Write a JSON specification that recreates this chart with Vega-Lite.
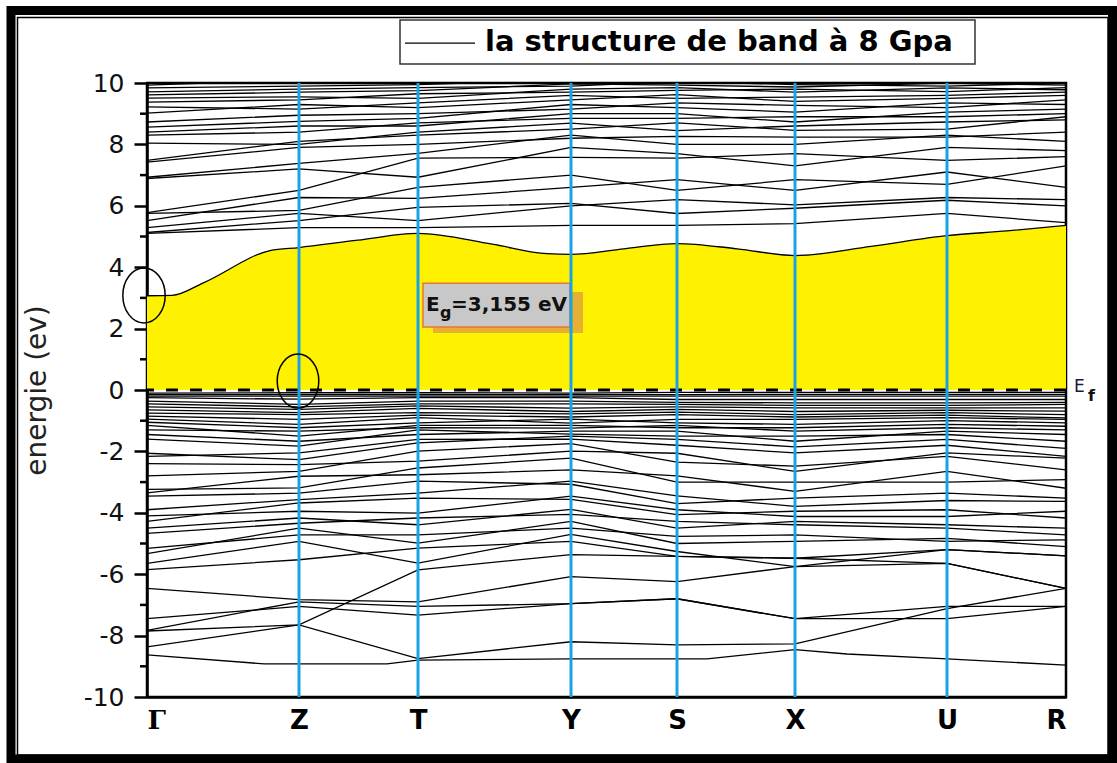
{
"$schema":"https://vega.github.io/schema/vega-lite/v6.json",
"width":919,"height":614,
"padding":0,
"background":"white",
"config":{"view":{"stroke":"#000","strokeWidth":2.5}},
"datasets":{
"one":[{}],
"minor":[{"t":-9},{"t":-7},{"t":-5},{"t":-3},{"t":-1},{"t":1},{"t":3},{"t":5},{"t":7},{"t":9}],
"kp":[{"k":152},{"k":271},{"k":424},{"k":530},{"k":648},{"k":800}],
"cbm":[{"k":0,"e":3.07},{"k":25,"e":3.08},{"k":57,"e":3.5},{"k":123,"e":4.54},{"k":152,"e":4.64},{"k":211,"e":4.88},{"k":271,"e":5.1},{"k":345,"e":4.75},{"k":400,"e":4.44},{"k":424,"e":4.42},{"k":477,"e":4.6},{"k":530,"e":4.77},{"k":590,"e":4.6},{"k":648,"e":4.38},{"k":724,"e":4.68},{"k":800,"e":5.03},{"k":860,"e":5.18},{"k":919,"e":5.36}],
"bands":[
{"b":"c1","k":0,"e":5.1},{"b":"c1","k":152,"e":5.29},{"b":"c1","k":271,"e":5.29},{"b":"c1","k":424,"e":5.36},{"b":"c1","k":530,"e":5.36},{"b":"c1","k":648,"e":5.42},{"b":"c1","k":800,"e":5.75},{"b":"c1","k":919,"e":5.45},
{"b":"c2","k":0,"e":5.13},{"b":"c2","k":152,"e":5.52},{"b":"c2","k":271,"e":5.95},{"b":"c2","k":424,"e":6.08},{"b":"c2","k":530,"e":5.75},{"b":"c2","k":648,"e":5.92},{"b":"c2","k":800,"e":6.18},{"b":"c2","k":919,"e":6.0},
{"b":"c3","k":0,"e":5.29},{"b":"c3","k":152,"e":5.75},{"b":"c3","k":271,"e":5.52},{"b":"c3","k":424,"e":6.0},{"b":"c3","k":530,"e":6.2},{"b":"c3","k":648,"e":6.03},{"b":"c3","k":800,"e":6.27},{"b":"c3","k":919,"e":6.2},
{"b":"c4","k":0,"e":5.52},{"b":"c4","k":152,"e":6.27},{"b":"c4","k":271,"e":6.24},{"b":"c4","k":424,"e":6.6},{"b":"c4","k":530,"e":6.85},{"b":"c4","k":648,"e":6.5},{"b":"c4","k":800,"e":7.1},{"b":"c4","k":919,"e":6.6},
{"b":"c5","k":0,"e":5.75},{"b":"c5","k":152,"e":5.85},{"b":"c5","k":271,"e":6.6},{"b":"c5","k":424,"e":7.0},{"b":"c5","k":530,"e":6.5},{"b":"c5","k":648,"e":6.85},{"b":"c5","k":800,"e":6.7},{"b":"c5","k":919,"e":7.3},
{"b":"c6","k":0,"e":5.78},{"b":"c6","k":152,"e":6.5},{"b":"c6","k":271,"e":7.55},{"b":"c6","k":424,"e":7.58},{"b":"c6","k":530,"e":7.55},{"b":"c6","k":648,"e":7.7},{"b":"c6","k":800,"e":7.48},{"b":"c6","k":919,"e":7.6},
{"b":"c7","k":0,"e":6.89},{"b":"c7","k":152,"e":7.2},{"b":"c7","k":271,"e":6.93},{"b":"c7","k":424,"e":7.9},{"b":"c7","k":530,"e":7.7},{"b":"c7","k":648,"e":7.3},{"b":"c7","k":800,"e":7.9},{"b":"c7","k":919,"e":7.8},
{"b":"c8","k":0,"e":6.93},{"b":"c8","k":152,"e":7.38},{"b":"c8","k":271,"e":7.71},{"b":"c8","k":424,"e":8.3},{"b":"c8","k":530,"e":8.0},{"b":"c8","k":648,"e":8.0},{"b":"c8","k":800,"e":8.3},{"b":"c8","k":919,"e":8.1},
{"b":"c9","k":0,"e":7.42},{"b":"c9","k":152,"e":7.9},{"b":"c9","k":271,"e":8.0},{"b":"c9","k":424,"e":8.2},{"b":"c9","k":530,"e":8.26},{"b":"c9","k":648,"e":8.24},{"b":"c9","k":800,"e":8.24},{"b":"c9","k":919,"e":8.4},
{"b":"c10","k":0,"e":7.48},{"b":"c10","k":152,"e":8.1},{"b":"c10","k":271,"e":8.3},{"b":"c10","k":424,"e":8.5},{"b":"c10","k":530,"e":8.7},{"b":"c10","k":648,"e":8.46},{"b":"c10","k":800,"e":8.5},{"b":"c10","k":919,"e":8.9},
{"b":"c11","k":0,"e":8.04},{"b":"c11","k":152,"e":8.0},{"b":"c11","k":271,"e":8.4},{"b":"c11","k":424,"e":8.69},{"b":"c11","k":530,"e":8.45},{"b":"c11","k":648,"e":8.6},{"b":"c11","k":800,"e":8.73},{"b":"c11","k":919,"e":8.8},
{"b":"c12","k":0,"e":8.3},{"b":"c12","k":152,"e":8.4},{"b":"c12","k":271,"e":8.7},{"b":"c12","k":424,"e":8.85},{"b":"c12","k":530,"e":8.85},{"b":"c12","k":648,"e":8.9},{"b":"c12","k":800,"e":8.9},{"b":"c12","k":919,"e":9.0},
{"b":"c13","k":0,"e":8.4},{"b":"c13","k":152,"e":8.6},{"b":"c13","k":271,"e":8.6},{"b":"c13","k":424,"e":9.0},{"b":"c13","k":530,"e":9.0},{"b":"c13","k":648,"e":8.73},{"b":"c13","k":800,"e":9.05},{"b":"c13","k":919,"e":9.15},
{"b":"c14","k":0,"e":8.56},{"b":"c14","k":152,"e":8.75},{"b":"c14","k":271,"e":8.85},{"b":"c14","k":424,"e":9.3},{"b":"c14","k":530,"e":9.2},{"b":"c14","k":648,"e":9.05},{"b":"c14","k":800,"e":9.35},{"b":"c14","k":919,"e":9.3},
{"b":"c15","k":0,"e":8.73},{"b":"c15","k":152,"e":8.95},{"b":"c15","k":271,"e":9.0},{"b":"c15","k":424,"e":9.15},{"b":"c15","k":530,"e":9.35},{"b":"c15","k":648,"e":9.27},{"b":"c15","k":800,"e":9.2},{"b":"c15","k":919,"e":9.45},
{"b":"c16","k":0,"e":9.02},{"b":"c16","k":152,"e":9.3},{"b":"c16","k":271,"e":9.2},{"b":"c16","k":424,"e":9.45},{"b":"c16","k":530,"e":9.62},{"b":"c16","k":648,"e":9.4},{"b":"c16","k":800,"e":9.5},{"b":"c16","k":919,"e":9.6},
{"b":"c17","k":0,"e":9.22},{"b":"c17","k":152,"e":9.15},{"b":"c17","k":271,"e":9.35},{"b":"c17","k":424,"e":9.6},{"b":"c17","k":530,"e":9.5},{"b":"c17","k":648,"e":9.54},{"b":"c17","k":800,"e":9.6},{"b":"c17","k":919,"e":9.7},
{"b":"c18","k":0,"e":9.38},{"b":"c18","k":152,"e":9.45},{"b":"c18","k":271,"e":9.65},{"b":"c18","k":424,"e":9.7},{"b":"c18","k":530,"e":9.76},{"b":"c18","k":648,"e":9.8},{"b":"c18","k":800,"e":9.72},{"b":"c18","k":919,"e":9.85},
{"b":"c19","k":0,"e":9.51},{"b":"c19","k":152,"e":9.55},{"b":"c19","k":271,"e":9.5},{"b":"c19","k":424,"e":9.8},{"b":"c19","k":530,"e":9.85},{"b":"c19","k":648,"e":9.7},{"b":"c19","k":800,"e":9.84},{"b":"c19","k":919,"e":9.78},
{"b":"c20","k":0,"e":9.61},{"b":"c20","k":152,"e":9.7},{"b":"c20","k":271,"e":9.75},{"b":"c20","k":424,"e":9.97},{"b":"c20","k":530,"e":9.93},{"b":"c20","k":648,"e":9.87},{"b":"c20","k":800,"e":10.0},{"b":"c20","k":919,"e":9.93},
{"b":"c21","k":0,"e":9.71},{"b":"c21","k":152,"e":9.8},{"b":"c21","k":271,"e":9.85},{"b":"c21","k":424,"e":9.9},{"b":"c21","k":530,"e":10.05},{"b":"c21","k":648,"e":9.95},{"b":"c21","k":800,"e":9.9},{"b":"c21","k":919,"e":10.0},
{"b":"c22","k":0,"e":9.84},{"b":"c22","k":152,"e":9.9},{"b":"c22","k":271,"e":9.95},{"b":"c22","k":424,"e":10.1},{"b":"c22","k":530,"e":10.15},{"b":"c22","k":648,"e":10.1},{"b":"c22","k":800,"e":10.1},{"b":"c22","k":919,"e":10.1},
{"b":"c23","k":0,"e":9.93},{"b":"c23","k":152,"e":10.1},{"b":"c23","k":271,"e":10.1},{"b":"c23","k":424,"e":10.2},{"b":"c23","k":530,"e":10.3},{"b":"c23","k":648,"e":10.25},{"b":"c23","k":800,"e":10.25},{"b":"c23","k":919,"e":10.25},
{"b":"v1","k":0,"e":-0.1},{"b":"v1","k":152,"e":-0.09},{"b":"v1","k":271,"e":-0.09},{"b":"v1","k":424,"e":-0.1},{"b":"v1","k":530,"e":-0.08},{"b":"v1","k":648,"e":-0.08},{"b":"v1","k":800,"e":-0.08},{"b":"v1","k":919,"e":-0.08},
{"b":"v2","k":0,"e":-0.15},{"b":"v2","k":152,"e":-0.15},{"b":"v2","k":271,"e":-0.15},{"b":"v2","k":424,"e":-0.15},{"b":"v2","k":530,"e":-0.15},{"b":"v2","k":648,"e":-0.14},{"b":"v2","k":800,"e":-0.14},{"b":"v2","k":919,"e":-0.14},
{"b":"v3","k":0,"e":-0.2},{"b":"v3","k":152,"e":-0.2},{"b":"v3","k":271,"e":-0.2},{"b":"v3","k":424,"e":-0.2},{"b":"v3","k":530,"e":-0.2},{"b":"v3","k":648,"e":-0.2},{"b":"v3","k":800,"e":-0.2},{"b":"v3","k":919,"e":-0.2},
{"b":"v4","k":0,"e":-0.25},{"b":"v4","k":152,"e":-0.3},{"b":"v4","k":271,"e":-0.25},{"b":"v4","k":424,"e":-0.25},{"b":"v4","k":530,"e":-0.31},{"b":"v4","k":648,"e":-0.31},{"b":"v4","k":800,"e":-0.31},{"b":"v4","k":919,"e":-0.31},
{"b":"v5","k":0,"e":-0.36},{"b":"v5","k":152,"e":-0.47},{"b":"v5","k":271,"e":-0.36},{"b":"v5","k":424,"e":-0.36},{"b":"v5","k":530,"e":-0.4},{"b":"v5","k":648,"e":-0.42},{"b":"v5","k":800,"e":-0.42},{"b":"v5","k":919,"e":-0.4},
{"b":"v6","k":0,"e":-0.45},{"b":"v6","k":152,"e":-0.55},{"b":"v6","k":271,"e":-0.45},{"b":"v6","k":424,"e":-0.45},{"b":"v6","k":530,"e":-0.47},{"b":"v6","k":648,"e":-0.5},{"b":"v6","k":800,"e":-0.5},{"b":"v6","k":919,"e":-0.47},
{"b":"v7","k":0,"e":-0.55},{"b":"v7","k":152,"e":-0.63},{"b":"v7","k":271,"e":-0.52},{"b":"v7","k":424,"e":-0.59},{"b":"v7","k":530,"e":-0.55},{"b":"v7","k":648,"e":-0.58},{"b":"v7","k":800,"e":-0.58},{"b":"v7","k":919,"e":-0.58},
{"b":"v8","k":0,"e":-0.65},{"b":"v8","k":152,"e":-0.74},{"b":"v8","k":271,"e":-0.6},{"b":"v8","k":424,"e":-0.7},{"b":"v8","k":530,"e":-0.63},{"b":"v8","k":648,"e":-0.7},{"b":"v8","k":800,"e":-0.66},{"b":"v8","k":919,"e":-0.69},
{"b":"v9","k":0,"e":-0.75},{"b":"v9","k":152,"e":-0.8},{"b":"v9","k":271,"e":-0.74},{"b":"v9","k":424,"e":-0.78},{"b":"v9","k":530,"e":-0.72},{"b":"v9","k":648,"e":-0.8},{"b":"v9","k":800,"e":-0.74},{"b":"v9","k":919,"e":-0.8},
{"b":"v10","k":0,"e":-0.85},{"b":"v10","k":152,"e":-0.96},{"b":"v10","k":271,"e":-0.82},{"b":"v10","k":424,"e":-0.88},{"b":"v10","k":530,"e":-0.8},{"b":"v10","k":648,"e":-0.88},{"b":"v10","k":800,"e":-0.82},{"b":"v10","k":919,"e":-0.91},
{"b":"v11","k":0,"e":-0.95},{"b":"v11","k":152,"e":-1.12},{"b":"v11","k":271,"e":-0.9},{"b":"v11","k":424,"e":-1.08},{"b":"v11","k":530,"e":-0.96},{"b":"v11","k":648,"e":-0.96},{"b":"v11","k":800,"e":-0.9},{"b":"v11","k":919,"e":-0.96},
{"b":"v12","k":0,"e":-1.05},{"b":"v12","k":152,"e":-1.23},{"b":"v12","k":271,"e":-1.07},{"b":"v12","k":424,"e":-0.95},{"b":"v12","k":530,"e":-1.07},{"b":"v12","k":648,"e":-1.12},{"b":"v12","k":800,"e":-1.0},{"b":"v12","k":919,"e":-1.07},
{"b":"v13","k":0,"e":-1.15},{"b":"v13","k":152,"e":-1.5},{"b":"v13","k":271,"e":-1.15},{"b":"v13","k":424,"e":-1.15},{"b":"v13","k":530,"e":-1.23},{"b":"v13","k":648,"e":-1.23},{"b":"v13","k":800,"e":-1.12},{"b":"v13","k":919,"e":-1.18},
{"b":"v14","k":0,"e":-1.3},{"b":"v14","k":152,"e":-1.34},{"b":"v14","k":271,"e":-1.23},{"b":"v14","k":424,"e":-1.24},{"b":"v14","k":530,"e":-1.15},{"b":"v14","k":648,"e":-1.34},{"b":"v14","k":800,"e":-1.23},{"b":"v14","k":919,"e":-1.3},
{"b":"v15","k":0,"e":-1.45},{"b":"v15","k":152,"e":-1.67},{"b":"v15","k":271,"e":-1.45},{"b":"v15","k":424,"e":-1.34},{"b":"v15","k":530,"e":-1.34},{"b":"v15","k":648,"e":-1.67},{"b":"v15","k":800,"e":-1.34},{"b":"v15","k":919,"e":-1.45},
{"b":"v16","k":0,"e":-1.6},{"b":"v16","k":152,"e":-1.83},{"b":"v16","k":271,"e":-1.3},{"b":"v16","k":424,"e":-1.44},{"b":"v16","k":530,"e":-1.5},{"b":"v16","k":648,"e":-1.5},{"b":"v16","k":800,"e":-1.45},{"b":"v16","k":919,"e":-1.67},
{"b":"v17","k":0,"e":-2.06},{"b":"v17","k":152,"e":-2.27},{"b":"v17","k":271,"e":-1.72},{"b":"v17","k":424,"e":-1.5},{"b":"v17","k":530,"e":-1.61},{"b":"v17","k":648,"e":-1.85},{"b":"v17","k":800,"e":-1.61},{"b":"v17","k":919,"e":-1.9},
{"b":"v18","k":0,"e":-2.16},{"b":"v18","k":152,"e":-2.05},{"b":"v18","k":271,"e":-1.61},{"b":"v18","k":424,"e":-1.6},{"b":"v18","k":530,"e":-1.8},{"b":"v18","k":648,"e":-2.05},{"b":"v18","k":800,"e":-1.8},{"b":"v18","k":919,"e":-2.16},
{"b":"v19","k":0,"e":-2.4},{"b":"v19","k":152,"e":-2.43},{"b":"v19","k":271,"e":-2.32},{"b":"v19","k":424,"e":-1.99},{"b":"v19","k":530,"e":-2.06},{"b":"v19","k":648,"e":-2.65},{"b":"v19","k":800,"e":-2.05},{"b":"v19","k":919,"e":-2.22},
{"b":"v20","k":0,"e":-2.8},{"b":"v20","k":152,"e":-2.65},{"b":"v20","k":271,"e":-1.99},{"b":"v20","k":424,"e":-1.75},{"b":"v20","k":530,"e":-2.35},{"b":"v20","k":648,"e":-2.48},{"b":"v20","k":800,"e":-2.16},{"b":"v20","k":919,"e":-2.6},
{"b":"v21","k":0,"e":-3.24},{"b":"v21","k":152,"e":-3.19},{"b":"v21","k":271,"e":-2.54},{"b":"v21","k":424,"e":-2.22},{"b":"v21","k":530,"e":-3.0},{"b":"v21","k":648,"e":-3.0},{"b":"v21","k":800,"e":-3.0},{"b":"v21","k":919,"e":-2.92},
{"b":"v22","k":0,"e":-3.35},{"b":"v22","k":152,"e":-2.81},{"b":"v22","k":271,"e":-2.76},{"b":"v22","k":424,"e":-2.6},{"b":"v22","k":530,"e":-2.8},{"b":"v22","k":648,"e":-3.3},{"b":"v22","k":800,"e":-2.65},{"b":"v22","k":919,"e":-3.2},
{"b":"v23","k":0,"e":-3.46},{"b":"v23","k":152,"e":-3.36},{"b":"v23","k":271,"e":-2.97},{"b":"v23","k":424,"e":-3.07},{"b":"v23","k":530,"e":-3.7},{"b":"v23","k":648,"e":-3.52},{"b":"v23","k":800,"e":-3.36},{"b":"v23","k":919,"e":-3.52},
{"b":"v24","k":0,"e":-3.9},{"b":"v24","k":152,"e":-3.57},{"b":"v24","k":271,"e":-3.36},{"b":"v24","k":424,"e":-2.97},{"b":"v24","k":530,"e":-3.45},{"b":"v24","k":648,"e":-3.79},{"b":"v24","k":800,"e":-3.6},{"b":"v24","k":919,"e":-3.63},
{"b":"v25","k":0,"e":-4.1},{"b":"v25","k":152,"e":-3.95},{"b":"v25","k":271,"e":-4.01},{"b":"v25","k":424,"e":-3.46},{"b":"v25","k":530,"e":-3.9},{"b":"v25","k":648,"e":-4.12},{"b":"v25","k":800,"e":-4.12},{"b":"v25","k":919,"e":-3.95},
{"b":"v26","k":0,"e":-4.28},{"b":"v26","k":152,"e":-3.68},{"b":"v26","k":271,"e":-3.52},{"b":"v26","k":424,"e":-3.56},{"b":"v26","k":530,"e":-4.06},{"b":"v26","k":648,"e":-3.95},{"b":"v26","k":800,"e":-3.9},{"b":"v26","k":919,"e":-4.17},
{"b":"v27","k":0,"e":-4.5},{"b":"v27","k":152,"e":-4.17},{"b":"v27","k":271,"e":-4.39},{"b":"v27","k":424,"e":-3.89},{"b":"v27","k":530,"e":-4.5},{"b":"v27","k":648,"e":-4.28},{"b":"v27","k":800,"e":-4.39},{"b":"v27","k":919,"e":-4.5},
{"b":"v28","k":0,"e":-4.67},{"b":"v28","k":152,"e":-4.34},{"b":"v28","k":271,"e":-4.17},{"b":"v28","k":424,"e":-4.05},{"b":"v28","k":530,"e":-4.28},{"b":"v28","k":648,"e":-4.39},{"b":"v28","k":800,"e":-4.5},{"b":"v28","k":919,"e":-4.72},
{"b":"v29","k":0,"e":-5.16},{"b":"v29","k":152,"e":-4.72},{"b":"v29","k":271,"e":-4.72},{"b":"v29","k":424,"e":-4.5},{"b":"v29","k":530,"e":-4.77},{"b":"v29","k":648,"e":-4.72},{"b":"v29","k":800,"e":-4.93},{"b":"v29","k":919,"e":-4.88},
{"b":"v30","k":0,"e":-5.33},{"b":"v30","k":152,"e":-4.5},{"b":"v30","k":271,"e":-4.99},{"b":"v30","k":424,"e":-4.28},{"b":"v30","k":530,"e":-5.0},{"b":"v30","k":648,"e":-4.93},{"b":"v30","k":800,"e":-4.83},{"b":"v30","k":919,"e":-5.1},
{"b":"v31","k":0,"e":-5.65},{"b":"v31","k":152,"e":-4.93},{"b":"v31","k":271,"e":-5.64},{"b":"v31","k":424,"e":-4.7},{"b":"v31","k":530,"e":-5.26},{"b":"v31","k":648,"e":-5.75},{"b":"v31","k":800,"e":-5.2},{"b":"v31","k":919,"e":-5.4},
{"b":"v32","k":0,"e":-5.85},{"b":"v32","k":152,"e":-5.53},{"b":"v32","k":271,"e":-5.15},{"b":"v32","k":424,"e":-4.93},{"b":"v32","k":530,"e":-5.42},{"b":"v32","k":648,"e":-5.48},{"b":"v32","k":800,"e":-5.65},{"b":"v32","k":919,"e":-6.46},
{"b":"v33","k":0,"e":-6.46},{"b":"v33","k":152,"e":-6.83},{"b":"v33","k":271,"e":-6.9},{"b":"v33","k":424,"e":-6.08},{"b":"v33","k":530,"e":-6.24},{"b":"v33","k":648,"e":-5.75},{"b":"v33","k":800,"e":-5.65},{"b":"v33","k":919,"e":-6.46},
{"b":"v34","k":0,"e":-7.83},{"b":"v34","k":152,"e":-6.9},{"b":"v34","k":271,"e":-7.05},{"b":"v34","k":424,"e":-6.96},{"b":"v34","k":530,"e":-6.8},{"b":"v34","k":648,"e":-7.45},{"b":"v34","k":800,"e":-7.45},{"b":"v34","k":919,"e":-7.05},
{"b":"v35","k":0,"e":-7.45},{"b":"v35","k":152,"e":-7.05},{"b":"v35","k":271,"e":-7.33},{"b":"v35","k":424,"e":-6.96},{"b":"v35","k":530,"e":-6.8},{"b":"v35","k":648,"e":-7.45},{"b":"v35","k":800,"e":-7.05},{"b":"v35","k":919,"e":-7.05},
{"b":"v36","k":0,"e":-7.85},{"b":"v36","k":152,"e":-7.65},{"b":"v36","k":271,"e":-5.86},{"b":"v36","k":424,"e":-5.36},{"b":"v36","k":530,"e":-5.42},{"b":"v36","k":648,"e":-5.48},{"b":"v36","k":800,"e":-5.2},{"b":"v36","k":919,"e":-5.4},
{"b":"v37","k":0,"e":-8.37},{"b":"v37","k":152,"e":-7.65},{"b":"v37","k":271,"e":-8.75},{"b":"v37","k":424,"e":-8.2},{"b":"v37","k":530,"e":-8.3},{"b":"v37","k":648,"e":-8.27},{"b":"v37","k":800,"e":-7.12},{"b":"v37","k":919,"e":-6.46},
{"b":"v38","k":0,"e":-8.63},{"b":"v38","k":117,"e":-8.92},{"b":"v38","k":152,"e":-8.92},{"b":"v38","k":240,"e":-8.92},{"b":"v38","k":271,"e":-8.8},{"b":"v38","k":424,"e":-8.76},{"b":"v38","k":530,"e":-8.76},{"b":"v38","k":560,"e":-8.76},{"b":"v38","k":648,"e":-8.46},{"b":"v38","k":700,"e":-8.6},{"b":"v38","k":800,"e":-8.76},{"b":"v38","k":919,"e":-8.96}
]},
"layer":[
{"data":{"name":"cbm"},
 "mark":{"type":"area","color":"#fff200","interpolate":"monotone","opacity":1},
 "encoding":{
  "x":{"field":"k","type":"quantitative","scale":{"domain":[0,919],"nice":false,"zero":false},
   "axis":{"values":[0,152,271,424,530,648,800,919],
    "labelExpr":"datum.value==0?'Γ':datum.value==152?'Z':datum.value==271?'T':datum.value==424?'Y':datum.value==530?'S':datum.value==648?'X':datum.value==800?'U':'R'",
    "ticks":false,"grid":false,"domainColor":"#000","domainWidth":2.5,
    "labelFont":{"condition":{"test":"datum.value==0","value":"DejaVu Serif"},"value":"DejaVu Sans"},
    "labelFontSize":26,"labelFontWeight":"bold","labelColor":"#000","labelPadding":10,"title":null}},
  "y":{"field":"e","type":"quantitative","scale":{"domain":[-10,10],"nice":false,"zero":false},
   "axis":{"values":[-10,-8,-6,-4,-2,0,2,4,6,8,10],
    "labelExpr":"''+datum.value",
    "tickSize":13,"tickWidth":2.5,"tickColor":"#000","domainWidth":2.5,"domainColor":"#000","grid":false,
    "labelFont":"DejaVu Sans","labelFontSize":25,"labelColor":"#111","labelPadding":10,
    "title":"energie (ev)","titleFont":"DejaVu Sans","titleFontSize":28,"titleFontWeight":"normal","titleColor":"#222","titlePadding":32}},
  "y2":{"datum":0}}},
{"data":{"name":"one"},
 "mark":{"type":"rect","opacity":0},
 "encoding":{"x":{"datum":-147,"type":"quantitative"},"x2":{"datum":970},"y":{"datum":12.7,"type":"quantitative"},"y2":{"datum":-12.15}}},
{"data":{"name":"bands"},
 "mark":{"type":"line","color":"#000","strokeWidth":1.3,"interpolate":"linear","clip":true},
 "encoding":{"x":{"field":"k","type":"quantitative"},"y":{"field":"e","type":"quantitative"},"detail":{"field":"b"}}},
{"data":{"name":"cbm"},
 "mark":{"type":"line","color":"#000","strokeWidth":1.3,"interpolate":"monotone"},
 "encoding":{"x":{"field":"k","type":"quantitative"},"y":{"field":"e","type":"quantitative"}}},
{"data":{"name":"minor"},
 "mark":{"type":"rule","color":"#000","strokeWidth":2.5},
 "encoding":{"x":{"datum":-7,"type":"quantitative"},"x2":{"datum":0},"y":{"field":"t","type":"quantitative"}}},
{"data":{"name":"one"},
 "mark":{"type":"rect","filled":false,"stroke":"#000","strokeWidth":9},
 "encoding":{"x":{"datum":-136,"type":"quantitative"},"x2":{"datum":965.5},"y":{"datum":12.36,"type":"quantitative"},"y2":{"datum":-12.02}}},
{"data":{"name":"one"},
 "mark":{"type":"rect","filled":false,"stroke":"#000","strokeWidth":1.5},
 "encoding":{"x":{"datum":-129.5,"type":"quantitative"},"x2":{"datum":961},"y":{"datum":12.13,"type":"quantitative"},"y2":{"datum":-11.89}}},
{"data":{"name":"one"},
 "mark":{"type":"rule","color":"#000","strokeWidth":3,"strokeDash":[12,12]},
 "encoding":{"y":{"datum":0,"type":"quantitative"}}},
{"data":{"name":"one"},
 "mark":{"type":"rect","color":"#e6b030"},
 "encoding":{"x":{"datum":286,"type":"quantitative"},"x2":{"datum":436},"y":{"datum":3.19,"type":"quantitative"},"y2":{"datum":1.86}}},
{"data":{"name":"one"},
 "mark":{"type":"rect","fill":"#c8c8c8","stroke":"#e8743b","strokeWidth":1.5},
 "encoding":{"x":{"datum":276,"type":"quantitative"},"x2":{"datum":423},"y":{"datum":3.48,"type":"quantitative"},"y2":{"datum":2.05}}},
{"data":{"name":"one"},
 "mark":{"type":"text","text":"E","font":"DejaVu Sans","fontSize":20,"fontWeight":"bold","align":"left","baseline":"alphabetic","color":"#111"},
 "encoding":{"x":{"datum":279,"type":"quantitative"},"y":{"datum":2.57,"type":"quantitative"}}},
{"data":{"name":"one"},
 "mark":{"type":"text","text":"g","font":"DejaVu Sans","fontSize":16,"fontWeight":"bold","align":"left","baseline":"alphabetic","color":"#111"},
 "encoding":{"x":{"datum":293,"type":"quantitative"},"y":{"datum":2.35,"type":"quantitative"}}},
{"data":{"name":"one"},
 "mark":{"type":"text","text":"=3,155 eV","font":"DejaVu Sans","fontSize":20,"fontWeight":"bold","align":"left","baseline":"alphabetic","color":"#111"},
 "encoding":{"x":{"datum":304,"type":"quantitative"},"y":{"datum":2.57,"type":"quantitative"}}},
{"data":{"name":"kp"},
 "mark":{"type":"rule","color":"#1ba1e6","strokeWidth":3},
 "encoding":{"x":{"field":"k","type":"quantitative"}}},
{"data":{"name":"one"},
 "mark":{"type":"point","shape":"M0.77,0C0.77,0.552,0.425,1,0,1C-0.425,1,-0.77,0.552,-0.77,0C-0.77,-0.552,-0.425,-1,0,-1C0.425,-1,0.77,-0.552,0.77,0Z","size":3025,"filled":false,"stroke":"#000","strokeWidth":1.5,"opacity":1},
 "encoding":{"x":{"datum":-3,"type":"quantitative"},"y":{"datum":3.08,"type":"quantitative"}}},
{"data":{"name":"one"},
 "mark":{"type":"point","shape":"M0.77,0C0.77,0.552,0.425,1,0,1C-0.425,1,-0.77,0.552,-0.77,0C-0.77,-0.552,-0.425,-1,0,-1C0.425,-1,0.77,-0.552,0.77,0Z","size":2916,"filled":false,"stroke":"#000","strokeWidth":1.5,"opacity":1},
 "encoding":{"x":{"datum":151,"type":"quantitative"},"y":{"datum":0.29,"type":"quantitative"}}},
{"data":{"name":"one"},
 "mark":{"type":"text","text":"E","font":"DejaVu Sans","fontSize":17,"align":"left","baseline":"alphabetic","color":"#1a1a33"},
 "encoding":{"x":{"datum":927,"type":"quantitative"},"y":{"datum":-0.07,"type":"quantitative"}}},
{"data":{"name":"one"},
 "mark":{"type":"text","text":"f","font":"DejaVu Sans","fontSize":16,"fontWeight":"bold","align":"left","baseline":"alphabetic","color":"#111"},
 "encoding":{"x":{"datum":941,"type":"quantitative"},"y":{"datum":-0.36,"type":"quantitative"}}},
{"data":{"name":"one"},
 "mark":{"type":"rect","fill":"#fff","stroke":"#333","strokeWidth":1.5},
 "encoding":{"x":{"datum":253,"type":"quantitative"},"x2":{"datum":828},"y":{"datum":12.05,"type":"quantitative"},"y2":{"datum":10.62}}},
{"data":{"name":"one"},
 "mark":{"type":"rule","color":"#000","strokeWidth":1.3},
 "encoding":{"x":{"datum":258,"type":"quantitative"},"x2":{"datum":328},"y":{"datum":11.3,"type":"quantitative"}}},
{"data":{"name":"one"},
 "mark":{"type":"text","text":"la structure de band à 8 Gpa","font":"DejaVu Sans","fontSize":29,"fontWeight":"bold","align":"left","baseline":"alphabetic","color":"#000"},
 "encoding":{"x":{"datum":338,"type":"quantitative"},"y":{"datum":11.04,"type":"quantitative"}}}
]
}
